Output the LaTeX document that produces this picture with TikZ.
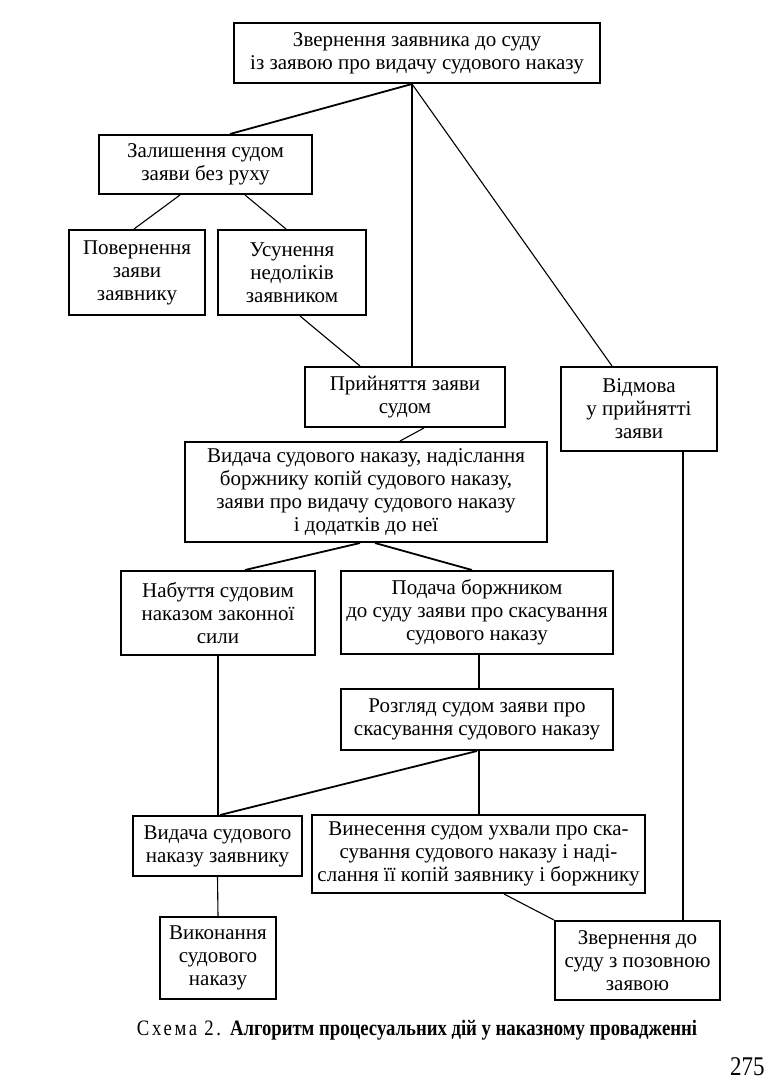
\documentclass[tikz,border=0pt]{standalone}
\usepackage{fontspec}
\setmainfont{Liberation Serif}
\newfontfamily\narrowfont{Liberation Serif}[FakeStretch=0.85]
\usetikzlibrary{calc}

\tikzset{
  stage/.style={draw, line width=1pt, align=center, inner sep=0pt,
    font=\fontsize{10.5}{11.5}\selectfont},
  link/.style={line width=0.55pt},
  boldlink/.style={line width=0.9pt},
}

\begin{document}
\begin{tikzpicture}[x=0.5pt, y=-0.5pt]
\useasboundingbox (0,0) rectangle (775,1091);
% stages of the procedure
\node[stage, minimum width=183pt, minimum height=30pt] (appeal) at (417,53) {Звернення заявника до суду\\із заявою про видачу судового наказу};
\node[stage, minimum width=106.5pt, minimum height=29.5pt] (leave) at (205.5,164.5) {Залишення судом\\заяви без руху};
\node[stage, minimum width=68pt, minimum height=42.5pt] (ret) at (137,272.5) {Повернення\\заяви\\заявнику};
\node[stage, minimum width=74pt, minimum height=42.5pt] (fix) at (292,272.5) {Усунення\\недоліків\\заявником};
\node[stage, minimum width=100pt, minimum height=30pt] (accept) at (405,397) {Прийняття заяви\\судом};
\node[stage, minimum width=78pt, minimum height=42pt] (refuse) at (639,409) {Відмова\\у прийнятті\\заяви};
\node[stage, minimum width=181pt, minimum height=50pt] (issue) at (366,492) {Видача судового наказу, надіслання\\боржнику копій судового наказу,\\заяви про видачу судового наказу\\і додатків до неї};
\node[stage, minimum width=97pt, minimum height=42pt] (force) at (218,613) {Набуття судовим\\наказом законної\\сили};
\node[stage, minimum width=136pt, minimum height=41.5pt] (objection) at (477,612.5) {Подача боржником\\до суду заяви про скасування\\судового наказу};
\node[stage, minimum width=136pt, minimum height=30.5pt] (review) at (477,719.5) {Розгляд судом заяви про\\скасування судового наказу};
\node[stage, minimum width=84.5pt, minimum height=30pt] (handover) at (217.5,846) {Видача судового\\наказу заявнику};
\node[stage, minimum width=166.5pt, minimum height=39pt] (cancel) at (478.5,854) {Винесення судом ухвали про ска-\\сування судового наказу і наді-\\слання її копій заявнику і боржнику};
\node[stage, minimum width=58pt, minimum height=41pt] (execute) at (218,958) {Виконання\\судового\\наказу};
\node[stage, minimum width=82.5pt, minimum height=39.5pt] (lawsuit) at (637.5,960.5) {Звернення до\\суду з позовною\\заявою};

% connectors
\coordinate (hub) at ($(appeal.south)+(-5,0)$);
\draw[boldlink] (hub) -- ($(leave.north)+(24.5,0)$);
\draw[link] (hub) -- (hub |- accept.north);
\draw[link] (hub) -- ($(refuse.north)+(-27,0)$);
\draw[link] ($(leave.south)+(-25.5,0)$) -- ($(ret.north)+(-3,0)$);
\draw[link] ($(leave.south)+(39.5,0)$) -- ($(fix.north)+(-6,0)$);
\draw[link] ($(fix.south)+(8,0)$) -- ($(accept.north)+(-45,0)$);
\draw[link] ($(accept.south)+(19,0)$) -- ($(issue.north)+(34,0)$);
\draw[boldlink] ($(issue.south)+(-6,0)$) -- ($(force.north)+(27,0)$);
\draw[boldlink] ($(issue.south)+(9,0)$) -- ($(objection.north)+(-5,0)$);
\draw[link] (force.south) -- (force.south |- handover.north);
\draw[link] ($(objection.south)+(2,0)$) -- ($(review.north)+(2,0)$);
\draw[boldlink] (review.south) -- ($(handover.north)+(2.5,0)$);
\coordinate (rfork) at ($(review.south)+(2,0)$);
\draw[link] (rfork) -- (rfork |- cancel.north);
\draw[link] (handover.south) -- (execute.north);
\draw[link] ($(cancel.south)+(25.5,0)$) -- (lawsuit.north west);
\coordinate (rdrop) at ($(refuse.south)+(44,0)$);
\draw[link] (rdrop) -- (rdrop |- lawsuit.north);

% caption and page number
\node[font=\narrowfont\fontsize{11}{13}\selectfont] (caption) at (417,1030) {{\addfontfeature{LetterSpace=12}Схема 2.} \textbf{Алгоритм процесуальних дій у наказному провадженні}};
\node[anchor=east, inner sep=0pt, font=\narrowfont\fontsize{13.5}{14}\selectfont] (pageno) at (765,1067) {275};
\end{tikzpicture}
\end{document}
